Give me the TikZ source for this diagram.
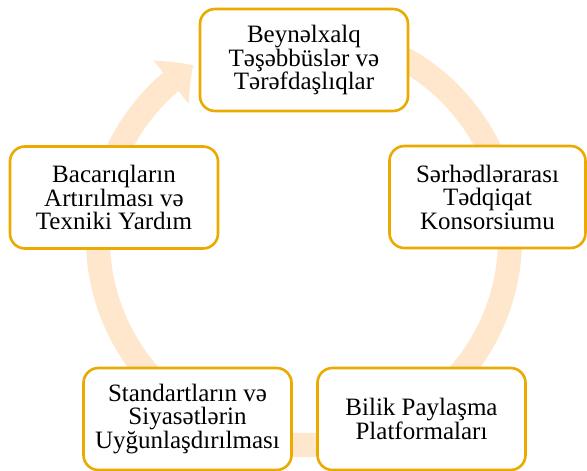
\documentclass[tikz,border=0pt]{standalone}
\usepackage{fontspec}
\setmainfont{Liberation Serif}
\usetikzlibrary{arrows.meta,bending}
\definecolor{boxgold}{RGB}{234,170,0}
\definecolor{arcpeach}{RGB}{254,231,205}
\tikzset{
  cyclebox/.style={draw=boxgold, line width=2.6pt, fill=white, rounded corners=15pt,
    minimum height=102pt, inner sep=0pt, align=center,
    font=\fontsize{25}{23.5}\selectfont},
  cyclearc/.style={draw=arcpeach, line width=24pt,
    -{Triangle[width=54pt,length=28pt,bend]}}
}
\begin{document}
\begin{tikzpicture}[x=1pt,y=-1pt]
\useasboundingbox[fill=white] (0,0) rectangle (587,471);
\coordinate (c) at (304,239);
% y axis points down: angle -a here is screen angle a
\draw[cyclearc] (c) ++(-75:206) arc[start angle=-75, end angle=237.5, radius=206];
\node[cyclebox, minimum width=208pt] (top) at (304,60) {Beynəlxalq\\Təşəbbüslər və\\Tərəfdaşlıqlar};
\node[cyclebox, minimum width=196pt] (right) at (487.5,197) {Sərhədlərarası\\Tədqiqat\\Konsorsiumu};
\node[cyclebox, minimum width=208pt] (bright) at (421.5,419) {Bilik Paylaşma\\Platformaları};
\node[cyclebox, minimum width=208pt] (bleft) at (187.5,419) {Standartların və\\Siyasətlərin\\Uyğunlaşdırılması};
\node[cyclebox, minimum width=208pt] (left) at (114,197.5) {Bacarıqların\\Artırılması və\\Texniki Yardım};
\end{tikzpicture}
\end{document}
